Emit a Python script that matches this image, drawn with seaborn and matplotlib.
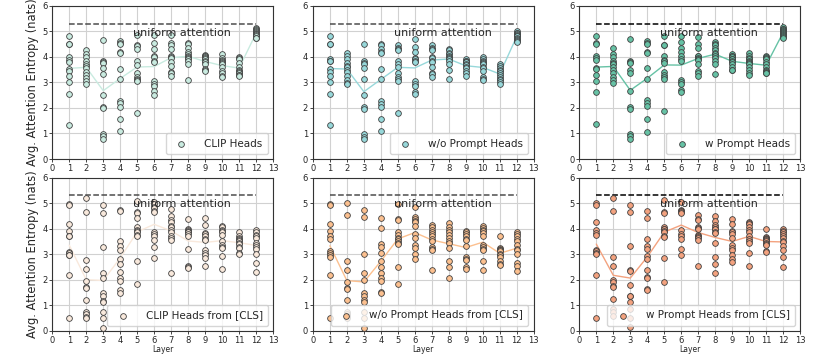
import pandas as pd
import matplotlib
matplotlib.use("Agg")
import matplotlib.pyplot as plt
import seaborn as sns

# entropy of every head (12 heads) per layer
layers = list(range(1, 13))

clip_heads = [
    [4.82, 4.52, 4.49, 3.98, 3.86, 3.80, 3.52, 3.45, 3.25, 3.02, 2.56, 1.32],
    [4.28, 4.12, 3.98, 3.85, 3.72, 3.65, 3.55, 3.42, 3.30, 3.18, 3.05, 2.95],
    [4.65, 3.85, 3.80, 3.75, 3.55, 3.32, 2.50, 2.02, 1.98, 0.98, 0.90, 0.78],
    [4.62, 4.55, 4.50, 4.20, 4.15, 3.52, 3.12, 2.28, 2.20, 2.05, 1.58, 1.10],
    [4.85, 4.45, 4.42, 4.30, 3.82, 3.68, 3.38, 3.20, 3.15, 3.10, 3.05, 1.82],
    [4.85, 4.55, 4.30, 4.05, 4.00, 3.85, 3.80, 3.05, 2.95, 2.85, 2.65, 2.52],
    [4.85, 4.55, 4.45, 4.30, 4.05, 4.00, 3.95, 3.80, 3.65, 3.40, 3.35, 3.25],
    [4.55, 4.50, 4.35, 4.20, 4.10, 4.05, 4.00, 3.95, 3.90, 3.85, 3.70, 3.10],
    [4.08, 4.05, 4.02, 4.00, 3.95, 3.92, 3.85, 3.80, 3.70, 3.52, 3.47, 3.45],
    [4.12, 3.95, 3.88, 3.82, 3.78, 3.75, 3.70, 3.60, 3.45, 3.35, 3.25, 3.20],
    [3.98, 3.95, 3.90, 3.75, 3.60, 3.50, 3.45, 3.40, 3.35, 3.30, 3.28, 3.25],
    [5.12, 5.08, 5.05, 5.00, 4.98, 4.95, 4.90, 4.88, 4.85, 4.80, 4.75, 4.72],
]

wo_prompt_heads = [
    [4.82, 4.52, 4.49, 3.92, 3.85, 3.82, 3.52, 3.42, 3.25, 3.02, 2.55, 1.32],
    [4.15, 4.05, 3.90, 3.75, 3.65, 3.60, 3.50, 3.40, 3.25, 3.10, 2.98, 2.92],
    [4.52, 3.85, 3.75, 3.72, 3.55, 3.12, 2.50, 2.02, 1.95, 0.98, 0.88, 0.78],
    [4.52, 4.45, 4.30, 4.18, 4.15, 3.52, 3.12, 2.28, 2.15, 2.02, 1.58, 1.10],
    [4.45, 4.35, 4.30, 4.25, 3.82, 3.72, 3.62, 3.35, 3.20, 3.12, 3.05, 1.82],
    [4.70, 4.38, 4.20, 3.95, 3.90, 3.85, 3.78, 3.05, 2.95, 2.85, 2.62, 2.55],
    [4.45, 4.35, 4.30, 4.25, 4.00, 3.95, 3.85, 3.78, 3.62, 3.38, 3.32, 3.22],
    [4.32, 4.25, 4.15, 4.10, 4.05, 4.00, 3.95, 3.92, 3.85, 3.72, 3.50, 3.15],
    [3.92, 3.85, 3.85, 3.80, 3.78, 3.72, 3.68, 3.60, 3.55, 3.45, 3.35, 3.25],
    [4.00, 3.90, 3.82, 3.80, 3.75, 3.70, 3.62, 3.55, 3.45, 3.20, 3.12, 3.10],
    [3.72, 3.65, 3.55, 3.50, 3.45, 3.38, 3.30, 3.22, 3.15, 3.08, 3.00, 2.95],
    [5.00, 4.95, 4.92, 4.88, 4.85, 4.82, 4.80, 4.75, 4.70, 4.65, 4.60, 4.58],
]

w_prompt_heads = [
    [4.80, 4.55, 4.50, 4.05, 3.95, 3.88, 3.58, 3.52, 3.28, 3.05, 2.62, 1.38],
    [4.35, 4.12, 3.98, 3.85, 3.75, 3.70, 3.60, 3.50, 3.35, 3.20, 3.10, 2.98],
    [4.70, 3.85, 3.80, 3.75, 3.50, 3.38, 2.65, 2.02, 1.95, 0.98, 0.90, 0.80],
    [4.62, 4.55, 4.50, 4.20, 4.15, 3.55, 3.15, 2.30, 2.20, 2.08, 1.58, 1.05],
    [4.80, 4.48, 4.45, 4.05, 3.88, 3.85, 3.75, 3.42, 3.30, 3.20, 3.12, 1.88],
    [4.82, 4.58, 4.35, 4.20, 4.05, 3.90, 3.82, 3.10, 3.02, 2.92, 2.72, 2.62],
    [4.78, 4.52, 4.35, 4.05, 4.02, 3.95, 3.92, 3.88, 3.70, 3.45, 3.38, 3.25],
    [4.58, 4.50, 4.45, 4.35, 4.25, 4.15, 4.10, 4.05, 3.95, 3.85, 3.70, 3.32],
    [4.10, 4.05, 4.02, 3.98, 3.92, 3.90, 3.85, 3.78, 3.70, 3.60, 3.50, 3.48],
    [4.15, 4.02, 3.95, 3.92, 3.85, 3.78, 3.75, 3.70, 3.60, 3.50, 3.35, 3.30],
    [4.02, 3.98, 3.95, 3.90, 3.80, 3.70, 3.60, 3.50, 3.45, 3.42, 3.38, 3.35],
    [5.15, 5.10, 5.08, 5.05, 5.02, 4.98, 4.95, 4.90, 4.85, 4.80, 4.78, 4.75],
]

clip_cls = [
    [4.98, 4.92, 4.20, 3.92, 3.72, 3.70, 3.10, 3.05, 2.98, 2.95, 2.18, 0.50],
    [5.18, 4.65, 2.78, 2.42, 1.95, 1.72, 1.68, 1.20, 0.75, 0.65, 0.55, 0.50],
    [4.92, 4.60, 3.30, 2.28, 2.05, 1.48, 1.38, 1.18, 1.12, 0.72, 0.50, 0.12],
    [4.72, 4.70, 3.52, 3.32, 3.15, 2.80, 2.62, 2.30, 2.08, 1.95, 1.58, 1.50],
    [5.08, 4.65, 4.62, 4.40, 4.05, 3.95, 3.90, 3.85, 3.75, 3.70, 2.72, 1.82],
    [5.05, 4.95, 4.85, 4.80, 4.70, 4.65, 3.85, 3.78, 3.70, 3.55, 3.28, 2.85],
    [4.75, 4.50, 4.35, 4.25, 4.10, 4.05, 3.95, 3.85, 3.70, 3.62, 3.55, 2.25],
    [4.38, 4.00, 3.95, 3.92, 3.88, 3.85, 3.80, 3.72, 3.20, 2.55, 2.50, 2.45],
    [4.40, 4.15, 3.82, 3.78, 3.72, 3.60, 3.55, 3.15, 3.05, 2.95, 2.85, 2.52],
    [4.12, 4.05, 3.95, 3.90, 3.85, 3.75, 3.50, 3.35, 3.30, 3.25, 2.92, 2.42],
    [3.88, 3.72, 3.65, 3.60, 3.55, 3.52, 3.45, 3.40, 3.30, 3.25, 3.05, 3.02],
    [3.95, 3.85, 3.75, 3.70, 3.62, 3.45, 3.35, 3.30, 3.20, 3.00, 2.65, 2.30],
]

wo_prompt_cls = [
    [4.95, 4.92, 4.20, 3.92, 3.72, 3.58, 3.12, 3.05, 2.95, 2.88, 2.18, 0.50],
    [5.02, 4.52, 2.72, 2.38, 1.92, 1.68, 1.65, 1.22, 0.75, 0.65, 0.58, 0.52],
    [4.72, 4.45, 3.00, 2.28, 2.00, 1.48, 1.35, 1.22, 1.12, 0.72, 0.50, 0.12],
    [4.40, 4.02, 3.40, 3.28, 3.05, 2.75, 2.50, 2.25, 2.08, 1.95, 1.52, 1.50],
    [4.98, 4.38, 4.32, 3.88, 3.75, 3.65, 3.58, 3.50, 3.42, 3.38, 2.50, 1.82],
    [4.85, 4.45, 4.38, 4.30, 4.25, 4.10, 3.78, 3.62, 3.35, 3.25, 3.02, 2.80],
    [4.15, 4.05, 3.95, 3.85, 3.78, 3.72, 3.60, 3.50, 3.30, 3.22, 3.15, 2.40],
    [4.22, 4.05, 3.95, 3.88, 3.75, 3.62, 3.50, 3.42, 3.25, 2.72, 2.48, 2.08],
    [3.92, 3.85, 3.78, 3.70, 3.60, 3.55, 3.32, 2.90, 2.82, 2.78, 2.48, 2.42],
    [4.12, 4.02, 3.95, 3.90, 3.82, 3.72, 3.35, 3.28, 3.20, 3.15, 2.72, 2.40],
    [3.72, 3.25, 3.22, 3.18, 3.15, 3.12, 3.00, 2.95, 2.88, 2.75, 2.62, 2.58],
    [3.88, 3.80, 3.72, 3.60, 3.52, 3.35, 3.22, 3.18, 3.00, 2.65, 2.52, 2.35],
]

w_prompt_cls = [
    [5.00, 4.92, 4.25, 3.95, 3.82, 3.75, 3.18, 3.12, 3.05, 3.02, 2.18, 0.50],
    [5.18, 4.68, 2.88, 2.55, 2.00, 1.90, 1.75, 1.72, 1.25, 0.85, 0.72, 0.60],
    [4.92, 4.65, 3.32, 2.40, 2.35, 1.78, 1.38, 1.35, 1.12, 0.85, 0.52, 0.15],
    [4.68, 4.40, 3.58, 3.32, 3.22, 2.92, 2.82, 2.38, 2.12, 2.05, 1.62, 1.60],
    [5.12, 4.65, 4.62, 4.05, 4.00, 3.98, 3.92, 3.85, 3.72, 3.68, 2.85, 1.92],
    [5.05, 4.72, 4.70, 4.68, 4.65, 4.60, 3.95, 3.78, 3.72, 3.60, 3.22, 2.98],
    [4.55, 4.38, 4.32, 4.08, 4.02, 3.98, 3.75, 3.72, 3.68, 3.62, 3.55, 2.52],
    [4.50, 4.28, 4.15, 4.05, 4.00, 3.98, 3.88, 3.82, 3.45, 2.88, 2.60, 2.25],
    [4.38, 4.18, 3.92, 3.85, 3.78, 3.62, 3.35, 3.25, 3.18, 2.95, 2.82, 2.70],
    [4.25, 4.22, 4.20, 4.05, 3.95, 3.88, 3.70, 3.58, 3.50, 3.42, 3.05, 2.55],
    [4.00, 3.68, 3.62, 3.60, 3.58, 3.55, 3.50, 3.45, 3.40, 3.35, 3.12, 3.10],
    [3.98, 3.92, 3.85, 3.80, 3.70, 3.65, 3.52, 3.48, 3.32, 3.15, 2.88, 2.50],
]

panel_data = [clip_heads, wo_prompt_heads, w_prompt_heads,
              clip_cls, wo_prompt_cls, w_prompt_cls]
panel_labels = ["CLIP Heads", "w/o Prompt Heads", "w Prompt Heads",
                "CLIP Heads from [CLS]", "w/o Prompt Heads from [CLS]",
                "w Prompt Heads from [CLS]"]
panel_colors = ["#c9ebe0", "#97d8da", "#66c2a5",
                "#f9e9dc", "#fcc08f", "#f3a27f"]
dash_colors = ["0.3", "0.3", "k", "0.3", "0.3", "k"]

uniform_entropy = 5.3

sns.set_style("whitegrid", {"axes.edgecolor": "0.2", "grid.color": "0.82",
                            "xtick.bottom": True, "ytick.left": True})

fig = plt.figure(figsize=(8.3, 3.55), dpi=100)
lefts = [0.063, 0.377, 0.698]
bottoms = [0.552, 0.068]
width, height = 0.266, 0.432

for i, heads in enumerate(panel_data):
    row, col = divmod(i, 3)
    ax = fig.add_axes([lefts[col], bottoms[row], width, height])
    rows = []
    for layer, vals in zip(layers, heads):
        for v in vals:
            rows.append({"layer": layer, "entropy": v})
    df = pd.DataFrame(rows)

    sns.lineplot(data=df, x="layer", y="entropy", estimator="mean", errorbar=None,
                 color=panel_colors[i], linewidth=1.0, ax=ax, legend=False)
    sns.scatterplot(data=df, x="layer", y="entropy", color=panel_colors[i],
                    edgecolor="0.25", linewidth=0.6, s=17, ax=ax,
                    label=panel_labels[i], zorder=3)
    ax.plot([1, 12], [uniform_entropy, uniform_entropy], linestyle="--",
            color=dash_colors[i], linewidth=1.1)
    ax.text(4.75, 4.95, "uniform attention", fontsize=8, va="center", ha="left",
            color="0.15")

    ax.set_xlim(0, 13)
    ax.set_ylim(0, 6)
    ax.set_xticks(range(0, 14))
    ax.set_yticks(range(0, 7))
    ax.tick_params(labelsize=6, length=2.5, width=0.6, pad=1)
    for sp in ax.spines.values():
        sp.set_linewidth(0.8)
    ax.legend(loc="lower right", fontsize=7.5, frameon=True, handletextpad=1.2,
              borderpad=0.5)

    if col == 0:
        ax.set_ylabel("Avg. Attention Entropy (nats)", fontsize=8.3, labelpad=2)
    else:
        ax.set_ylabel("")
    if row == 1:
        ax.set_xlabel("Layer", fontsize=5.5, labelpad=0.5)
    else:
        ax.set_xlabel("")

fig.savefig("out.png", dpi=100)
